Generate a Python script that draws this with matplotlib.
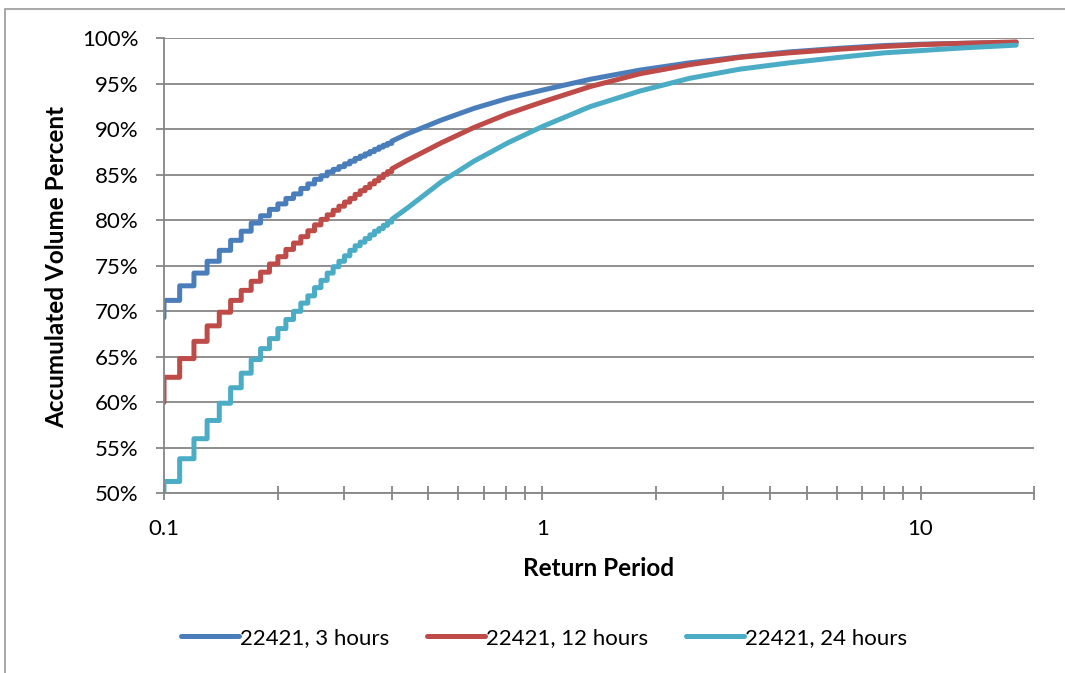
import numpy as np
import matplotlib.pyplot as plt
from matplotlib.patches import Rectangle
from matplotlib.ticker import FuncFormatter, LogLocator, FixedLocator

plt.rcParams['font.family'] = ['Lato', 'DejaVu Sans']

# step part (return periods rounded to 0.01), top of each step
x_step = [0.10, 0.11, 0.12, 0.13, 0.14, 0.15, 0.16, 0.17, 0.18, 0.19, 0.20,
          0.21, 0.22, 0.23, 0.24, 0.25, 0.26, 0.27, 0.28, 0.29, 0.30,
          0.31, 0.32, 0.33, 0.34, 0.35, 0.36, 0.37, 0.38, 0.39, 0.40]
h3_step = [71.2, 72.8, 74.2, 75.5, 76.7, 77.8, 78.8, 79.7, 80.5, 81.2, 81.8,
           82.4, 82.9, 83.5, 84.0, 84.5, 84.9, 85.3, 85.6, 85.9, 86.2,
           86.5, 86.8, 87.05, 87.3, 87.55, 87.8, 88.05, 88.25, 88.45, 88.7]
h12_step = [62.75, 64.8, 66.7, 68.4, 69.9, 71.2, 72.3, 73.3, 74.3, 75.2, 76.0,
            76.8, 77.5, 78.2, 78.85, 79.5, 80.1, 80.6, 81.1, 81.55, 82.0,
            82.4, 82.85, 83.25, 83.6, 84.0, 84.35, 84.7, 85.05, 85.35, 85.65]
h24_step = [51.3, 53.8, 56.0, 58.0, 59.9, 61.6, 63.2, 64.7, 65.9, 67.0, 68.1,
            69.1, 70.0, 70.9, 71.7, 72.6, 73.4, 74.2, 74.9, 75.5, 76.1,
            76.7, 77.2, 77.6, 78.0, 78.4, 78.8, 79.1, 79.45, 79.8, 80.1]
start = {'3h': 69.3, '12h': 60.0, '24h': 50.0}

# smooth part
x_line = [0.44, 0.54, 0.66, 0.81, 1.0, 1.34, 1.81, 2.45, 3.32, 4.49, 6.08, 8.0, 10.0, 13.0, 17.9]
h3_line = [89.5, 91.0, 92.3, 93.4, 94.3, 95.5, 96.5, 97.3, 97.95, 98.5, 98.9, 99.2, 99.35, 99.45, 99.55]
h12_line = [86.6, 88.5, 90.2, 91.7, 93.0, 94.7, 96.1, 97.1, 97.9, 98.4, 98.8, 99.1, 99.3, 99.45, 99.6]
h24_line = [81.35, 84.2, 86.5, 88.5, 90.3, 92.5, 94.2, 95.6, 96.6, 97.3, 97.9, 98.4, 98.65, 98.95, 99.25]

labels = ['22421, 3 hours', '22421, 12 hours', '22421, 24 hours']
colors = ['#4A7EBB', '#BE4B48', '#4BACC6']


def build_path(y0, ys, xl, yl):
    px, py = [x_step[0]], [y0]
    for xi, yi in zip(x_step, ys):
        px += [xi, xi]
        py += [py[-1], yi]
    return px + xl, py + yl


fig = plt.figure(figsize=(10.65, 6.73), dpi=100)
ax = fig.add_axes([164 / 1065, 1 - 493.3 / 673, 870.4 / 1065, 455 / 673])

series = [(start['3h'], h3_step, h3_line),
          (start['12h'], h12_step, h12_line),
          (start['24h'], h24_step, h24_line)]
for (y0, ys, yl), lab, c in zip(series, labels, colors):
    px, py = build_path(y0, ys, x_line, yl)
    ax.plot(px, py, color=c, lw=3.6, label=lab, solid_capstyle='round',
            solid_joinstyle='round', clip_on=True)

grey = '#868686'
ax.set_xscale('log')
ax.set_xlim(0.1, 20)
ax.set_ylim(50, 100)
ax.set_yticks(np.arange(50, 101, 5))
ax.yaxis.set_major_formatter(FuncFormatter(lambda v, p: f'{v:.0f}%'))
ax.xaxis.set_major_locator(FixedLocator([0.1, 1, 10]))
ax.xaxis.set_major_formatter(FuncFormatter(lambda v, p: f'{v:g}'))
ax.xaxis.set_minor_locator(LogLocator(base=10, subs=np.arange(2, 10), numticks=20))
ax.xaxis.set_minor_formatter(FuncFormatter(lambda v, p: ''))

ax.grid(axis='y', color=grey, lw=1.3)
ax.set_axisbelow(True)
for s in ['top', 'right']:
    ax.spines[s].set_visible(False)
for s in ['left', 'bottom']:
    ax.spines[s].set_color(grey)
    ax.spines[s].set_linewidth(1.3)

ax.tick_params(axis='y', which='major', direction='out', length=6, width=1.3,
               color=grey, pad=12.5, labelsize=16, labelcolor='black')
ax.tick_params(axis='x', which='both', direction='inout', length=9.4, width=1.3,
               color=grey, pad=14, labelsize=16, labelcolor='black')

fig.text(57 / 1065, 1 - 267 / 673, 'Accumulated Volume Percent', rotation=90,
         ha='center', va='center', fontsize=17.5, fontweight='bold')
fig.text(599 / 1065, 1 - 568 / 673, 'Return Period', ha='center', va='center',
         fontsize=17.5, fontweight='bold')

fig.legend(loc='center', bbox_to_anchor=(544 / 1065, 1 - 638 / 673), ncol=3,
           frameon=False, fontsize=16, handlelength=2.6, handletextpad=0.05,
           columnspacing=1.7)

fig.add_artist(Rectangle((5 / 1065, -0.1), 1.2, 1.1 - 9 / 673,
                         transform=fig.transFigure, fill=False,
                         edgecolor='#9a9a9a', lw=1.2))

fig.savefig('out.png', dpi=100)
